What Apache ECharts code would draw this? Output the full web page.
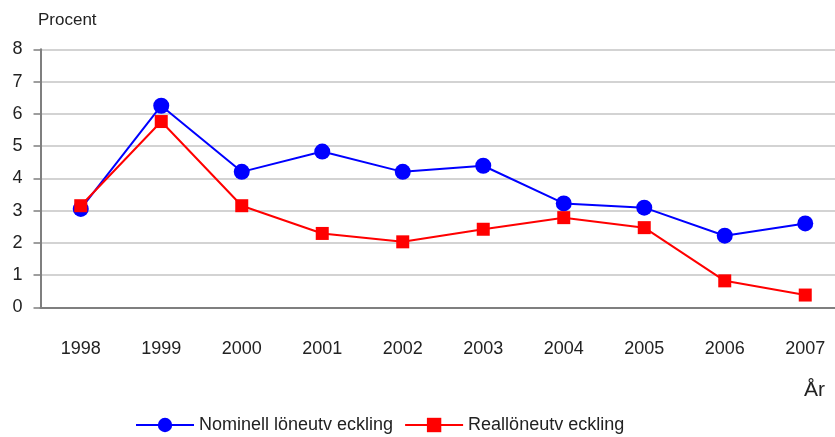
<!DOCTYPE html>
<html><head><meta charset="utf-8">
<script src="https://cdn.jsdelivr.net/npm/echarts@6/dist/echarts.min.js"></script>
<style>html,body{margin:0;padding:0;background:#fff}#c{width:835px;height:437px}</style>
</head><body><div id="c"></div>
<script>
const years = ['1998','1999','2000','2001','2002','2003','2004','2005','2006','2007'];
const nominell = [3.05, 6.25, 4.2, 4.83, 4.2, 4.39, 3.22, 3.09, 2.22, 2.6];
const real = [3.15, 5.76, 3.15, 2.29, 2.03, 2.42, 2.78, 2.47, 0.82, 0.38];
const yTicks = [0,1,2,3,4,5,6,7,8];
const FONT = '"Liberation Sans",Arial,sans-serif';
const chart = echarts.init(document.getElementById('c'), null, {renderer:'canvas'});
chart.setOption({
  animation:false,
  textStyle:{fontFamily:FONT},
  grid:{left:40.5, top:49.3, width:805, height:258, containLabel:false, outerBoundsMode:'none'},
  graphic:[
    {type:'text', left:38, top:12, style:{text:'Procent', font:'17px '+FONT, fill:'#222'}},
    {type:'text', left:804, top:380, style:{text:'År', font:'21px '+FONT, fill:'#222'}}
  ],
  legend:{
    top:411, left:130, itemWidth:58, itemHeight:18, itemGap:11,
    textStyle:{fontFamily:FONT, fontSize:18, color:'#222'},
    data:['Nominell löneutv eckling','Reallöneutv eckling']
  },
  xAxis:{
    type:'category', data:years, boundaryGap:true,
    axisLine:{lineStyle:{color:'#7f7f7f', width:2}},
    axisTick:{interval:1, length:8, lineStyle:{color:'#7f7f7f', width:1.5}},
    axisLabel:{interval:0, fontSize:18, color:'#222', margin:33, fontFamily:FONT}
  },
  yAxis:{
    type:'value', min:0, max:8, interval:1,
    axisLine:{show:true, lineStyle:{color:'#7f7f7f', width:2}},
    axisTick:{show:true, length:7, lineStyle:{color:'#7f7f7f', width:1.5}},
    axisLabel:{fontSize:18, color:'#222', margin:18, fontFamily:FONT,
      formatter:v=>yTicks.includes(v)?String(v):''},
    splitLine:{lineStyle:{color:'#c4c4c4', width:1.5}}
  },
  series:[
    {name:'Nominell löneutv eckling', type:'line', data:nominell, symbol:'circle', symbolSize:16,
     lineStyle:{color:'#0000ff', width:2}, itemStyle:{color:'#0000ff'}, z:2},
    {name:'Reallöneutv eckling', type:'line', data:real, symbol:'rect', symbolSize:13,
     lineStyle:{color:'#ff0000', width:2}, itemStyle:{color:'#ff0000'}, z:3}
  ]
});
</script></body></html>
